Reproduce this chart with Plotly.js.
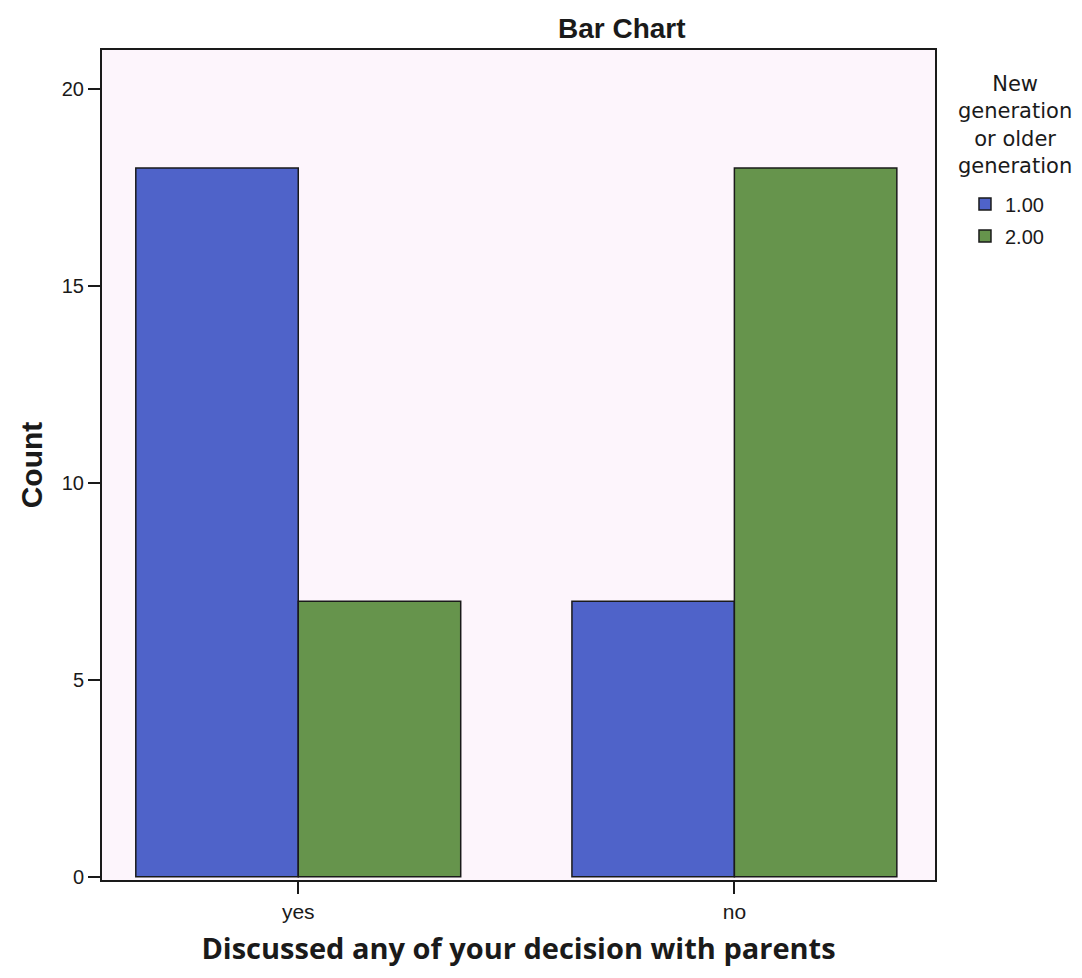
<!DOCTYPE html>
<html>
<head>
<meta charset="utf-8">
<script src="https://cdn.plot.ly/plotly-3.0.1.min.js"></script>
<style>html,body{margin:0;padding:0;background:#fff;}#chart{width:1082px;height:978px;}</style>
</head>
<body>
<div id="chart"></div>
<script>
var categories = ["yes", "no"];
var seriesNames = ["1.00", "2.00"];
var series1 = [18, 7];
var series2 = [7, 18];
var yTicks = [0, 5, 10, 15, 20];
var legendTitle = "New<br>generation<br>or older<br>generation";

var colors = ["#4f63c9", "#66944c"];
var values = [series1, series2];

var traces = seriesNames.map(function (name, i) {
  return {
    type: "bar",
    x: categories,
    y: values[i],
    name: name,
    legendgroup: "g" + i,
    marker: { color: colors[i], line: { color: "#1a1a1a", width: 1.5 } },
    hoverinfo: "x+y+name"
  };
});

var layout = {
  width: 1082,
  height: 978,
  margin: { l: 102, r: 147, t: 50, b: 98, autoexpand: false },
  paper_bgcolor: "#ffffff",
  plot_bgcolor: "#fdf5fc",
  barmode: "group",
  bargap: 0.255,
  bargroupgap: 0,
  font: { family: "Liberation Sans, Arial, sans-serif", color: "#1a1a1a" },
  title: {
    text: "<b>Bar Chart</b>",
    x: 0.624, xref: "paper", xanchor: "center",
    y: 0.971, yref: "container", yanchor: "middle",
    font: { size: 28, family: "Liberation Sans, Arial, sans-serif", color: "#1a1a1a" }
  },
  xaxis: {
    type: "category",
    range: [-0.45, 1.46],
    automargin: false,
    showgrid: false,
    zeroline: false,
    showline: true,
    linecolor: "#1a1a1a",
    linewidth: 2,
    mirror: true,
    ticks: "outside",
    ticklen: 12,
    tickwidth: 2,
    tickcolor: "#1a1a1a",
    tickfont: { size: 21, family: "Liberation Sans, Arial, sans-serif" },
    title: {
      text: "<b>Discussed any of your decision with parents</b>",
      font: { size: 29, family: "Open Sans, sans-serif", color: "#1a1a1a" },
      standoff: 16
    }
  },
  yaxis: {
    range: [-0.08, 21],
    automargin: false,
    tickvals: yTicks,
    showgrid: false,
    zeroline: false,
    showline: true,
    linecolor: "#1a1a1a",
    linewidth: 2,
    mirror: true,
    ticks: "outside",
    ticklen: 12,
    tickwidth: 2,
    tickcolor: "#1a1a1a",
    tickfont: { size: 20, family: "Liberation Sans, Arial, sans-serif" },
    title: {
      text: "<b>Count</b>",
      font: { size: 30, family: "Liberation Sans, Arial, sans-serif", color: "#1a1a1a" },
      standoff: 10
    }
  },
  legend: {
    x: 1.036, xanchor: "left",
    y: 0.838, yanchor: "top",
    bgcolor: "rgba(0,0,0,0)",
    font: { size: 20, family: "Liberation Sans, Arial, sans-serif", color: "#1a1a1a" },
    traceorder: "grouped",
    tracegroupgap: 3,
    itemwidth: 30
  },
  annotations: [{
    text: legendTitle,
    xref: "paper", yref: "paper",
    x: 1.096, y: 0.976,
    xanchor: "center", yanchor: "top",
    align: "center",
    showarrow: false,
    font: { size: 21, family: "DejaVu Sans, sans-serif", color: "#1a1a1a" }
  }],
  showlegend: true
};

Plotly.newPlot("chart", traces, layout, { displayModeBar: false });
</script>
</body>
</html>
